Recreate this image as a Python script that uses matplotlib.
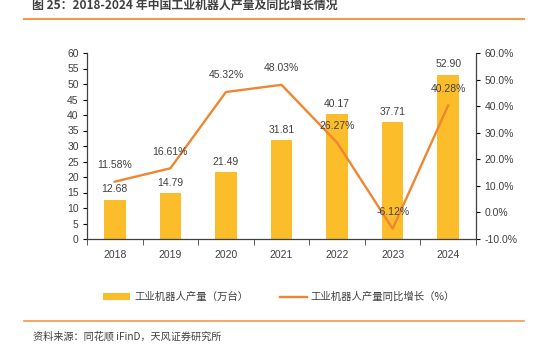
import matplotlib
matplotlib.use("Agg")
import matplotlib.pyplot as plt
from matplotlib.lines import Line2D
from matplotlib.patches import Patch

# =====================================================
# 1. DATA
# =====================================================

years = ["2018", "2019", "2020", "2021", "2022", "2023", "2024"]
output = [12.68, 14.79, 21.49, 31.81, 40.17, 37.71, 52.90]      # 万台
growth = [11.58, 16.61, 45.32, 48.03, 26.27, -6.12, 40.28]      # %

title = "图 25：2018-2024 年中国工业机器人产量及同比增长情况"
source = "资料来源：同花顺 iFinD，天风证券研究所"
bar_label = "工业机器人产量（万台）"
line_label = "工业机器人产量同比增长（%）"

BAR_COLOR = "#FBBD2A"
LINE_COLOR = "#F0862F"
RULE_COLOR = "#F4974A"
TEXT_COLOR = "#404040"

# numbers in Liberation Sans, Chinese falls back to Noto CJK
NUM_FONT = ["Liberation Sans", "Noto Sans CJK SC"]
plt.rcParams["font.family"] = ["Noto Sans CJK SC", "DejaVu Sans"]

# =====================================================
# 2. FIGURE
# =====================================================

W, H = 538, 352
fig = plt.figure(figsize=(W / 100, H / 100), dpi=100)

def fx(px):
    return px / W

def fy(py):
    return 1 - py / H

ax = fig.add_axes([fx(87), fy(239), fx(476) - fx(87), fy(53) - fy(239)])
ax2 = ax.twinx()

x = list(range(len(years)))
ax.bar(x, output, width=0.39, color=BAR_COLOR, zorder=2)
ax2.plot(x, growth, color=LINE_COLOR, linewidth=1.7, zorder=3)

# bars behind the line
ax.set_zorder(1)
ax2.set_zorder(2)

ax.set_xlim(-0.5, len(years) - 0.5)
ax.set_ylim(0, 60)
ax.set_yticks(range(0, 61, 5))
ax2.set_ylim(-10, 60)
ax2.set_yticks(range(-10, 61, 10))
ax2.set_yticklabels([f"{v:.1f}%" for v in range(-10, 61, 10)])

ax.set_xticks(x)
ax.set_xticklabels(years)
ax.set_xticks([i + 0.5 for i in range(-1, len(years))], minor=True)
ax.tick_params(axis="x", which="major", length=0, pad=8)
ax.tick_params(axis="x", which="minor", length=4, direction="out",
               color="#404040")
ax.tick_params(axis="y", length=3, direction="out", pad=3)
ax2.tick_params(axis="y", length=3, direction="out", pad=3)

for lbl in ax.get_xticklabels() + ax.get_yticklabels() + ax2.get_yticklabels():
    lbl.set_family(NUM_FONT)
    lbl.set_fontsize(7.5)
    lbl.set_color(TEXT_COLOR)

for a in (ax, ax2):
    a.spines["top"].set_visible(False)
    for s in ("left", "right", "bottom"):
        a.spines[s].set_color("#404040")
        a.spines[s].set_linewidth(0.9)
ax.spines["right"].set_visible(False)
ax2.spines["left"].set_visible(False)
ax2.spines["bottom"].set_visible(False)

# data labels
for xi, v in zip(x, output):
    ax.annotate(f"{v:.2f}", (xi, v), xytext=(0, 4), textcoords="offset points",
                ha="center", va="bottom", fontsize=7.5, color=TEXT_COLOR,
                family=NUM_FONT, zorder=5)
for xi, v in zip(x, growth):
    ax2.annotate(f"{v:.2f}%", (xi, v), xytext=(0, 12), textcoords="offset points",
                 ha="center", va="center", fontsize=7.5, color=TEXT_COLOR,
                 family=NUM_FONT, zorder=5)

# legend
handles = [Patch(facecolor=BAR_COLOR, edgecolor="none"),
           Line2D([0], [0], color=LINE_COLOR, linewidth=1.7)]
fig.legend(handles, [bar_label, line_label], loc="center",
           bbox_to_anchor=(fx(279), fy(297)), ncol=2, frameon=False,
           fontsize=7.5, labelcolor=TEXT_COLOR, handlelength=2.6,
           handleheight=0.6, columnspacing=3.0, handletextpad=0.4,
           borderpad=0, borderaxespad=0)

# title, rules and source
fig.text(fx(32), fy(5), title, fontsize=8.6, fontweight="bold",
         color=TEXT_COLOR, ha="left", va="center")
fig.add_artist(Line2D([fx(24), fx(524)], [fy(18.5), fy(18.5)],
                      color=RULE_COLOR, linewidth=1.5))
fig.add_artist(Line2D([fx(24), fx(524)], [fy(321), fy(321)],
                      color=RULE_COLOR, linewidth=1.2))
fig.text(fx(33), fy(336), source, fontsize=7.3, color=TEXT_COLOR,
         ha="left", va="center")

fig.savefig("out.png", dpi=100)
